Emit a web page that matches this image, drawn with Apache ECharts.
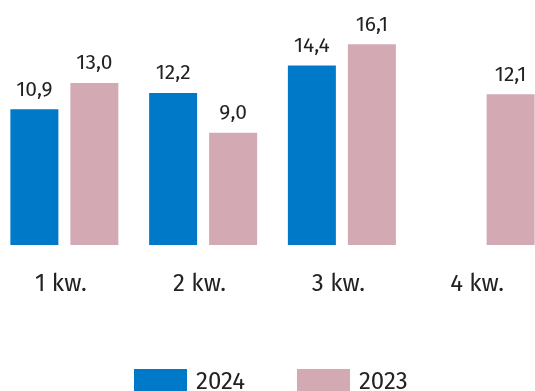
<!DOCTYPE html>
<html>
<head>
<meta charset="utf-8">
<script src="https://cdn.jsdelivr.net/npm/echarts@6/dist/echarts.min.js"></script>
<style>
  html, body { margin: 0; padding: 0; background: #fff; }
  #chart { width: 535px; height: 391px; }
</style>
</head>
<body>
<div id="chart"></div>
<script>
// dane z wykresu
var quarters = ['1 kw.', '2 kw.', '3 kw.', '4 kw.'];
var values2024 = [10.9, 12.2, 14.4, null];
var values2023 = [13.0, 9.0, 16.1, 12.1];

var fontName = 'Fira Sans, Noto Sans, Open Sans, sans-serif';

function fmt(p) {
    return p.value == null ? '' : p.value.toFixed(1).replace('.', ',');
}

var myChart = echarts.init(document.getElementById('chart'));
myChart.setOption({
    animation: false,
    textStyle: { fontFamily: fontName },
    grid: {
        left: -5,
        right: -15,
        top: 0,
        bottom: 146,
        containLabel: false,
        outerBoundsMode: 'none'
    },
    legend: {
        left: 134,
        top: 369,
        padding: 0,
        itemWidth: 53,
        itemHeight: 26,
        itemGap: 52,
        icon: 'rect',
        textStyle: {
            fontSize: 24,
            color: '#222',
            padding: [0, 0, 0, 4]
        },
        data: ['2024', '2023']
    },
    xAxis: {
        type: 'category',
        data: quarters,
        axisLine: { show: false },
        axisTick: { show: false },
        axisLabel: {
            margin: 27,
            fontSize: 24,
            color: '#222',
            padding: [0, 7, 0, 0]
        }
    },
    yAxis: {
        type: 'value',
        min: 0,
        max: 19.66,
        show: false,
        splitLine: { show: false }
    },
    series: [
        {
            name: '2024',
            type: 'bar',
            data: values2024,
            barWidth: 48,
            barGap: '25%',
            itemStyle: { color: '#0079C8' },
            label: {
                show: true,
                position: 'top',
                distance: 9,
                fontSize: 21,
                color: '#222',
                formatter: fmt
            }
        },
        {
            name: '2023',
            type: 'bar',
            data: values2023,
            barWidth: 48,
            barGap: '25%',
            itemStyle: { color: '#D3A9B4' },
            label: {
                show: true,
                position: 'top',
                distance: 9,
                fontSize: 21,
                color: '#222',
                formatter: fmt
            }
        }
    ]
});
</script>
</body>
</html>
